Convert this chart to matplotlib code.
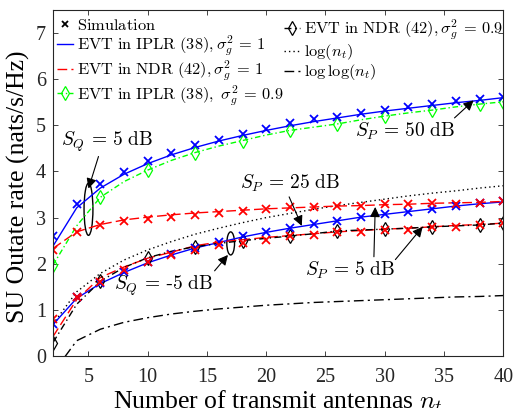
import matplotlib
matplotlib.use("Agg")
import matplotlib.pyplot as plt
from matplotlib.lines import Line2D
from matplotlib.patches import Ellipse

# x axis: number of transmit antennas
nt = [2, 4, 6, 8, 10, 12, 14, 16, 18, 20, 22, 24, 26, 28, 30, 32, 34, 36, 38, 40]

# S_Q = 5 dB group
iplr_top = [2.38, 3.21, 3.64, 3.94, 4.17, 4.36, 4.52, 4.66, 4.78, 4.89,
            4.99, 5.08, 5.16, 5.24, 5.31, 5.37, 5.43, 5.49, 5.54, 5.60]
iplr_top_sim = [2.60, 3.29, 3.72, 3.99, 4.23, 4.41, 4.57, 4.69, 4.81, 4.92,
                5.04, 5.13, 5.18, 5.26, 5.33, 5.40, 5.46, 5.53, 5.58, 5.62]
iplr09_top = [1.97, 2.82, 3.44, 3.78, 4.03, 4.24, 4.41, 4.55, 4.67, 4.79,
              4.89, 4.96, 5.03, 5.12, 5.20, 5.27, 5.33, 5.40, 5.46, 5.51]
ndr_top = [2.33, 2.69, 2.85, 2.95, 3.01, 3.06, 3.10, 3.13, 3.16, 3.19,
           3.21, 3.23, 3.25, 3.26, 3.28, 3.29, 3.31, 3.32, 3.33, 3.35]
ndr_top_sim = [2.30, 2.69, 2.85, 2.93, 2.97, 3.01, 3.06, 3.11, 3.14, 3.19,
               3.22, 3.24, 3.26, 3.26, 3.29, 3.30, 3.31, 3.29, 3.31, 3.35]

# S_Q = -5 dB group
iplr_bot = [0.68, 1.25, 1.57, 1.81, 2.02, 2.19, 2.34, 2.46, 2.58, 2.68,
            2.77, 2.85, 2.93, 3.01, 3.07, 3.13, 3.19, 3.25, 3.30, 3.34]
iplr_bot_sim = [0.70, 1.27, 1.58, 1.81, 2.03, 2.20, 2.33, 2.47, 2.60, 2.69,
                2.78, 2.86, 2.93, 3.02, 3.08, 3.13, 3.19, 3.25, 3.31, 3.35]
ndr_bot = [0.42, 1.22, 1.70, 1.93, 2.12, 2.25, 2.39, 2.47, 2.52, 2.57,
           2.61, 2.65, 2.69, 2.72, 2.75, 2.77, 2.80, 2.83, 2.85, 2.88]
ndr_bot_sim = [0.81, 1.28, 1.60, 1.86, 2.04, 2.19, 2.29, 2.40, 2.44, 2.51,
               2.60, 2.62, 2.69, 2.68, 2.73, 2.73, 2.80, 2.79, 2.85, 2.88]
ndr09_bot = [0.29, 1.12, 1.62, 1.92, 2.13, 2.27, 2.37, 2.44, 2.50, 2.55,
             2.60, 2.65, 2.71, 2.73, 2.75, 2.77, 2.80, 2.82, 2.84, 2.88]

# reference curves
log_nt = [0.69, 1.39, 1.79, 2.08, 2.30, 2.48, 2.64, 2.77, 2.89, 3.00,
          3.09, 3.18, 3.26, 3.33, 3.40, 3.47, 3.53, 3.58, 3.64, 3.69]
loglog_nt = [-0.37, 0.33, 0.58, 0.73, 0.83, 0.91, 0.97, 1.02, 1.06, 1.10,
             1.13, 1.16, 1.18, 1.20, 1.22, 1.24, 1.26, 1.28, 1.29, 1.31]

plt.rcParams["font.family"] = "serif"
plt.rcParams["font.serif"] = ["Liberation Serif", "DejaVu Serif"]
plt.rcParams["mathtext.fontset"] = "cm"

DIA_EVERY = list(range(0, 20, 2)) + [19]
LW = 1.0
GREEN = "#00ff00"
LS_RED = (0, (7, 3))
LS_GREEN = (0, (4, 2, 1, 2))
LS_BLK = (0, (5, 2.5, 1, 2.5))
LS_DOT = (0, (1, 2.2))
LS_LOGLOG = (0, (7, 3, 1.5, 3))

fig = plt.figure(figsize=(5.14, 4.08), dpi=100)
ax = fig.add_axes([0.103, 0.1275, 0.876, 0.848])

# reference curves
ax.plot(nt, log_nt, color="k", lw=LW, ls=LS_DOT)
ax.plot(nt, loglog_nt, color="k", lw=LW, ls=LS_LOGLOG)

# analytical curves
ax.plot(nt, iplr_top, color="b", lw=LW)
ax.plot(nt, iplr_bot, color="b", lw=LW)
ax.plot(nt, ndr_top, color="r", lw=LW, ls=LS_RED)
ax.plot(nt, ndr_bot, color="r", lw=LW, ls=LS_RED)
ax.plot(nt, iplr09_top, color=GREEN, lw=LW, ls=LS_GREEN,
        marker="d", ms=7, mfc="none", mew=0.9, markevery=DIA_EVERY)
ax.plot(nt, ndr09_bot, color="k", lw=LW, ls=LS_BLK,
        marker="d", ms=7, mfc="none", mew=0.9, markevery=DIA_EVERY)

# simulation points
for ys, c in [(iplr_top_sim, "b"), (iplr_bot_sim, "b"),
              (ndr_top_sim, "r"), (ndr_bot_sim, "r")]:
    ax.plot(nt, ys, ls="none", marker="x", ms=5.5, mew=1.3, color=c)

ax.set_xlim(2, 40)
ax.set_ylim(0, 7.5)
ax.set_xticks([5, 10, 15, 20, 25, 30, 35, 40])
ax.set_yticks(range(0, 8))
ax.tick_params(direction="in", top=True, right=True, length=3.5, width=0.6,
               labelsize=14.5, colors="#262626")
ax.tick_params(axis="x", pad=9)
ax.tick_params(axis="y", pad=5)
for s in ax.spines.values():
    s.set_linewidth(0.8)
    s.set_color("#262626")
ax.set_xlabel(r"Number of transmit antennas $n_t$", fontsize=18.5)
ax.set_ylabel("SU Outate rate (nats/s/Hz)", fontsize=18.5)
ax.xaxis.set_label_coords(0.5, -0.095)
ax.yaxis.set_label_coords(-0.052, 0.49)

# ellipses and annotations
ax.add_patch(Ellipse((5.0, 3.18), 0.75, 1.13, fill=False, ec="k", lw=1.0))
ax.add_patch(Ellipse((17.0, 2.44), 0.65, 0.50, fill=False, ec="k", lw=1.0))

ann = dict(fontsize=14, ha="center", va="center")
arr = dict(arrowstyle="-|>", color="k", lw=0.8, mutation_scale=15, shrinkA=0, shrinkB=0)
ax.annotate(r"$S_Q\,=\,5\ \mathrm{dB}$", xy=(5.0, 3.63), xytext=(6.54, 4.65),
            arrowprops=dict(arr, relpos=(0.42, 0.0)), **ann)
ax.annotate(r"$S_Q\,=\,$-$5\ \mathrm{dB}$", xy=(16.77, 2.19), xytext=(11.35, 1.52),
            arrowprops=dict(arr, relpos=(0.97, 0.9)), **ann)
ax.annotate(r"$S_P\,=\,50\ \mathrm{dB}$", xy=(37.5, 5.54), xytext=(31.75, 4.87),
            arrowprops=dict(arr, relpos=(0.96, 1.0)), **ann)
ax.annotate(r"$S_P\,=\,25\ \mathrm{dB}$", xy=(23.0, 2.82), xytext=(22.0, 3.74),
            arrowprops=dict(arr, relpos=(0.48, 0.0)), **ann)
ax.annotate(r"$S_P\,=\,5\ \mathrm{dB}$", xy=(29.2, 3.23), xytext=(27.1, 1.86),
            arrowprops=dict(arr, relpos=(0.76, 1.0)), **ann)
ax.annotate("", xy=(33.2, 2.80), xytext=(30.9, 2.09), arrowprops=arr)

# legend, two columns placed separately
dia = dict(marker="d", ms=7, mfc="none", mew=0.9)
h1 = [
    Line2D([], [], ls="none", marker="x", color="k", ms=5, mew=1.3),
    Line2D([], [], color="b", lw=LW),
    Line2D([], [], color="r", lw=LW, ls=LS_RED),
    Line2D([], [], color=GREEN, lw=LW, ls=LS_GREEN, **dia),
]
l1 = [
    r"$\mathrm{Simulation}$",
    r"$\mathrm{EVT\ in\ IPLR\ (38)},\sigma_g^2\,=\,1$",
    r"$\mathrm{EVT\ in\ NDR\ (42)},\sigma_g^2\,=\,1$",
    r"$\mathrm{EVT\ in\ IPLR\ (38)},\ \sigma_g^2\,=\,0.9$",
]
h2 = [
    Line2D([], [], color="k", lw=LW, ls=LS_BLK, **dia),
    Line2D([], [], color="k", lw=LW, ls=LS_DOT),
    Line2D([], [], color="k", lw=LW, ls=LS_LOGLOG),
]
l2 = [
    r"$\mathrm{EVT\ in\ NDR\ (42)},\sigma_g^2\,=\,0.9$",
    r"$\log(n_t)$",
    r"$\log\log(n_t)$",
]
leg_kw = dict(frameon=False, fontsize=11.8, handlelength=1.0, handletextpad=0.25,
              labelspacing=0.0, borderaxespad=0, borderpad=0, loc="upper left")
leg1 = ax.legend(h1, l1, bbox_to_anchor=(0.009, 0.978), **leg_kw)
ax.add_artist(leg1)
ax.legend(h2, l2, bbox_to_anchor=(0.513, 0.978), **leg_kw)

fig.savefig("out.png", dpi=100)
